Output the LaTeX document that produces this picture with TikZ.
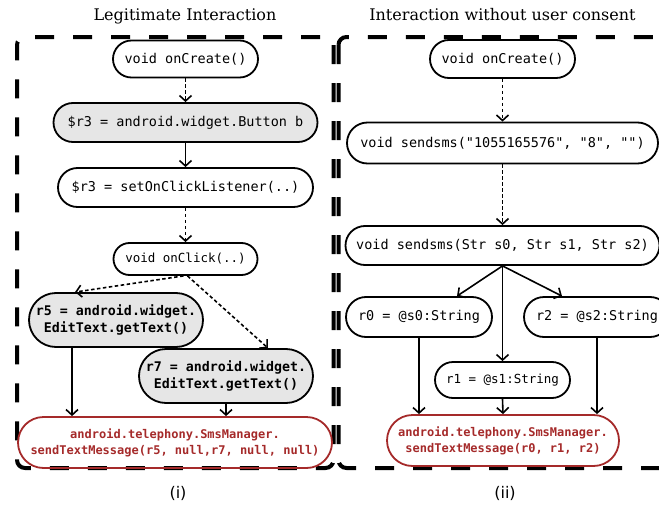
\documentclass[tikz,border=0pt]{standalone}
\usepackage{fontspec}
\setmainfont{DejaVu Serif}
\setsansfont{DejaVu Sans}
\setmonofont{DejaVu Sans Mono}
\usetikzlibrary{shapes.misc,arrows.meta}

\definecolor{smsred}{RGB}{165,42,42}
\definecolor{stmtgray}{RGB}{230,230,230}

\tikzset{
  pill/.style={rounded rectangle, draw, line width=1.8pt, inner xsep=0pt, inner ysep=0pt,
    align=center, font=\ttfamily\fontsize{13.5}{16}\selectfont},
  smallpill/.style={pill, font=\ttfamily\fontsize{12.5}{15}\selectfont},
  graypill/.style={pill, fill=stmtgray},
  boldpill/.style={pill, fill=stmtgray, font=\ttfamily\bfseries\fontsize{13.3}{17}\selectfont},
  sinkpill/.style={pill, draw=smsred, text=smsred, font=\ttfamily\bfseries\fontsize{12}{16}\selectfont},
  flow/.style={-{Straight Barb[length=5.5pt,width=12pt]}, line width=1.6pt},
  flowdash/.style={flow, dash pattern=on 3.5pt off 2.5pt},
  frame/.style={line width=4pt, dash pattern=on 19pt off 19pt, rounded corners=8pt},
  paneltitle/.style={font=\fontsize{16}{19}\selectfont},
  panellabel/.style={font=\sffamily\fontsize{16}{19}\selectfont}
}

\begin{document}
\begin{tikzpicture}[x=1pt,y=-1pt]
\useasboundingbox (0,0) rectangle (659,506);

% dashed frames around the two panels
\draw[frame] (333.5,37) rectangle (17,468);
\draw[frame] (338.5,37) rectangle (720,468);

% titles and captions
\node[paneltitle] (tl) at (185,16) {Legitimate Interaction};
\node[paneltitle] (tr) at (502.5,15) {Interaction without user consent};
\node[panellabel] (capl) at (178,493) {(i)};
\node[panellabel] (capr) at (505,493) {(ii)};

% ---- panel (i): legitimate interaction ----
\node[pill, minimum width=145, minimum height=37] (lc1) at (185.5,59) {void onCreate()};
\node[graypill, minimum width=264, minimum height=39] (lc2) at (185.5,122.5) {\$r3 = android.widget.Button b};
\node[pill, minimum width=255, minimum height=39] (lc3) at (185.5,187.5) {\$r3 = setOnClickListener(..)};
\node[smallpill, minimum width=144, minimum height=32] (lc4) at (185.5,259) {void onClick(..)};
\node[boldpill, minimum width=174, minimum height=54] (lr5) at (116,320) {r5 = android.widget.\\EditText.getText()};
\node[boldpill, minimum width=174, minimum height=54] (lr7) at (226,376) {r7 = android.widget.\\EditText.getText()};
\node[sinkpill, minimum width=314, minimum height=51] (lsink) at (175,442.5) {android.telephony.SmsManager.\\sendTextMessage(r5, null,r7, null, null)};

\draw[flowdash] (lc1.south) -- (lc2.north);
\draw[flow] (lc2.south) -- (lc3.north);
\draw[flowdash] (lc3.south) -- (lc4.north);
\draw[flowdash] ([xshift=-2pt]lc4.south) -- ([xshift=-41pt]lr5.north);
\draw[flowdash] ([xshift=2pt]lc4.south) -- ([xshift=42pt]lr7.north);
\draw[flow] ([xshift=-44pt]lr5.south) -- ([xshift=-44pt]lr5.south |- lsink.north);
\draw[flow] (lr7.south) -- (lr7.south |- lsink.north);

% ---- panel (ii): interaction without user consent ----
\node[pill, minimum width=145, minimum height=38] (rc1) at (502.5,59) {void onCreate()};
\node[pill, minimum width=311, minimum height=41] (rc2) at (502.5,143) {void sendsms("1055165576", "8", "")};
\node[pill, minimum width=314, minimum height=39] (rc3) at (502.5,245.5) {void sendsms(Str s0, Str s1, Str s2)};
\node[pill, minimum width=146, minimum height=40] (rr0) at (419,317) {r0 = @s0:String};
\node[pill, minimum width=146, minimum height=40] (rr2) at (597,317) {r2 = @s2:String};
\node[smallpill, minimum width=135, minimum height=36] (rr1) at (502.5,380) {r1 = @s1:String};
\node[sinkpill, minimum width=232, minimum height=51] (rsink) at (503,440.5) {android.telephony.SmsManager.\\sendTextMessage(r0, r1, r2)};

\draw[flowdash] (rc1.south) -- (rc2.north);
\draw[flowdash] (rc2.south) -- (rc3.north);
\draw[flow] (rc3.south) -- ([xshift=38pt]rr0.north);
\draw[flow] (rc3.south) -- ([xshift=-35pt]rr2.north);
\draw[flow] (rc3.south) -- (rr1.north);
\draw[flow] (rr0.south) -- (rr0.south |- rsink.north);
\draw[flow] (rr1.south) -- (rsink.north);
\draw[flow] (rr2.south) -- (rr2.south |- rsink.north);
\end{tikzpicture}
\end{document}
